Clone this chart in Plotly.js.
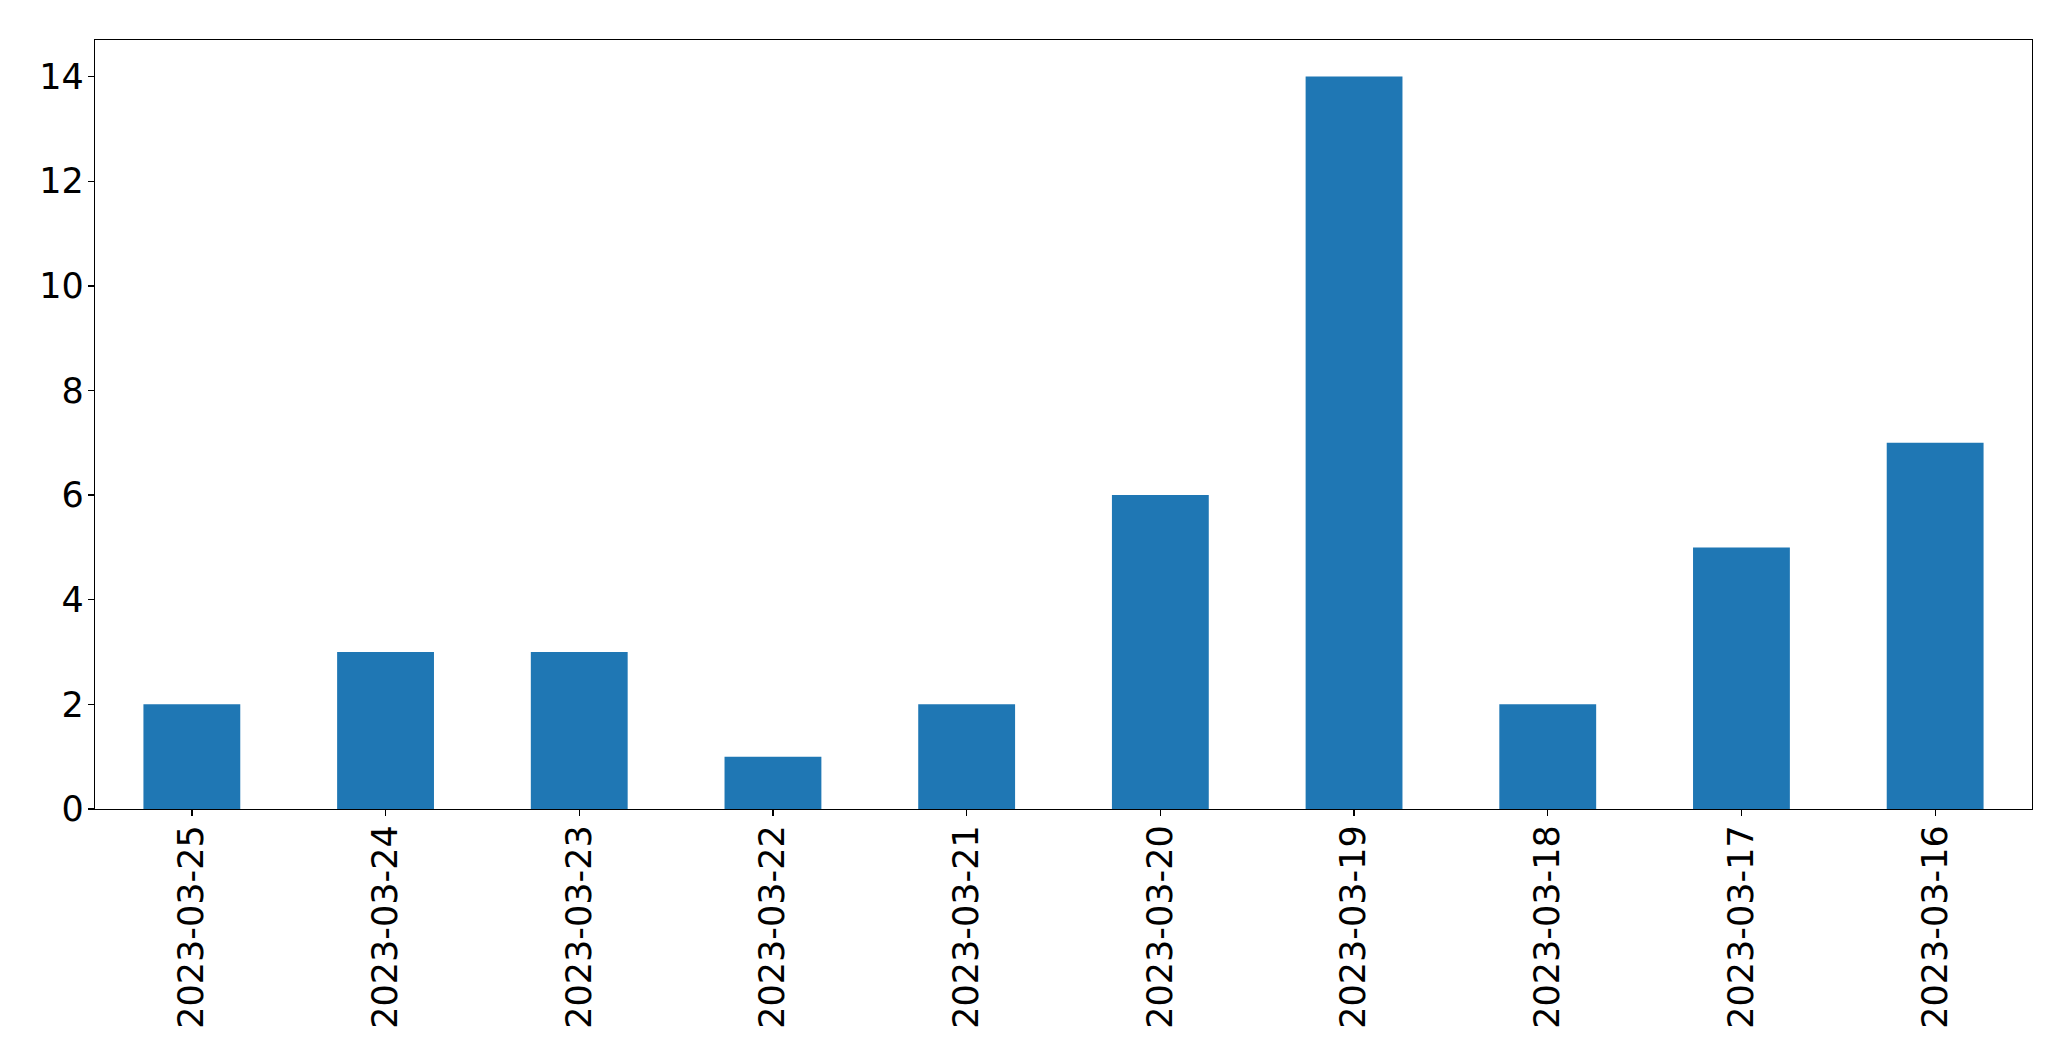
<!DOCTYPE html>
<html>
<head>
<meta charset="utf-8">
<script src="https://cdn.plot.ly/plotly-3.0.1.min.js"></script>
<style>html,body{margin:0;padding:0;background:#fff;}#chart{width:2071px;height:1061px;}</style>
</head>
<body>
<div id="chart"></div>
<script>
const categories = ["2023-03-25","2023-03-24","2023-03-23","2023-03-22","2023-03-21","2023-03-20","2023-03-19","2023-03-18","2023-03-17","2023-03-16"];
const counts = [2,3,3,1,2,6,14,2,5,7];
const yTicks = [0,2,4,6,8,10,12,14];

const trace = {
  type: 'bar',
  x: categories,
  y: counts,
  width: 0.5,
  marker: {color: '#1f77b4', line: {width: 0}},
  hoverinfo: 'x+y'
};
const layout = {
  width: 2071, height: 1061,
  margin: {l: 95, r: 39, t: 40, b: 252, pad: 0},
  paper_bgcolor: '#fff', plot_bgcolor: '#fff',
  showlegend: false,
  bargap: 0.5,
  font: {family: 'DejaVu Sans', size: 34, color: '#000'},
  xaxis: {
    type: 'category',
    range: [-0.5, 9.5],
    tickangle: -90,
    ticks: 'outside', ticklen: 6, tickwidth: 1.3, tickcolor: '#000',
    ticklabelstandoff: -5,
    showline: true, mirror: true, linecolor: '#000', linewidth: 1.3,
    showgrid: false, zeroline: false,
    tickfont: {family: 'DejaVu Sans', size: 35, color: '#000'}
  },
  yaxis: {
    range: [0, 14.7],
    tickvals: yTicks,
    ticktext: yTicks.map(String),
    ticks: 'outside', ticklen: 6, tickwidth: 1.3, tickcolor: '#000',
    ticklabelstandoff: -3,
    showline: true, mirror: true, linecolor: '#000', linewidth: 1.3,
    showgrid: false, zeroline: false,
    tickfont: {family: 'DejaVu Sans', size: 35, color: '#000'}
  }
};
Plotly.newPlot('chart', [trace], layout, {displayModeBar: false, staticPlot: true});
</script>
</body>
</html>
